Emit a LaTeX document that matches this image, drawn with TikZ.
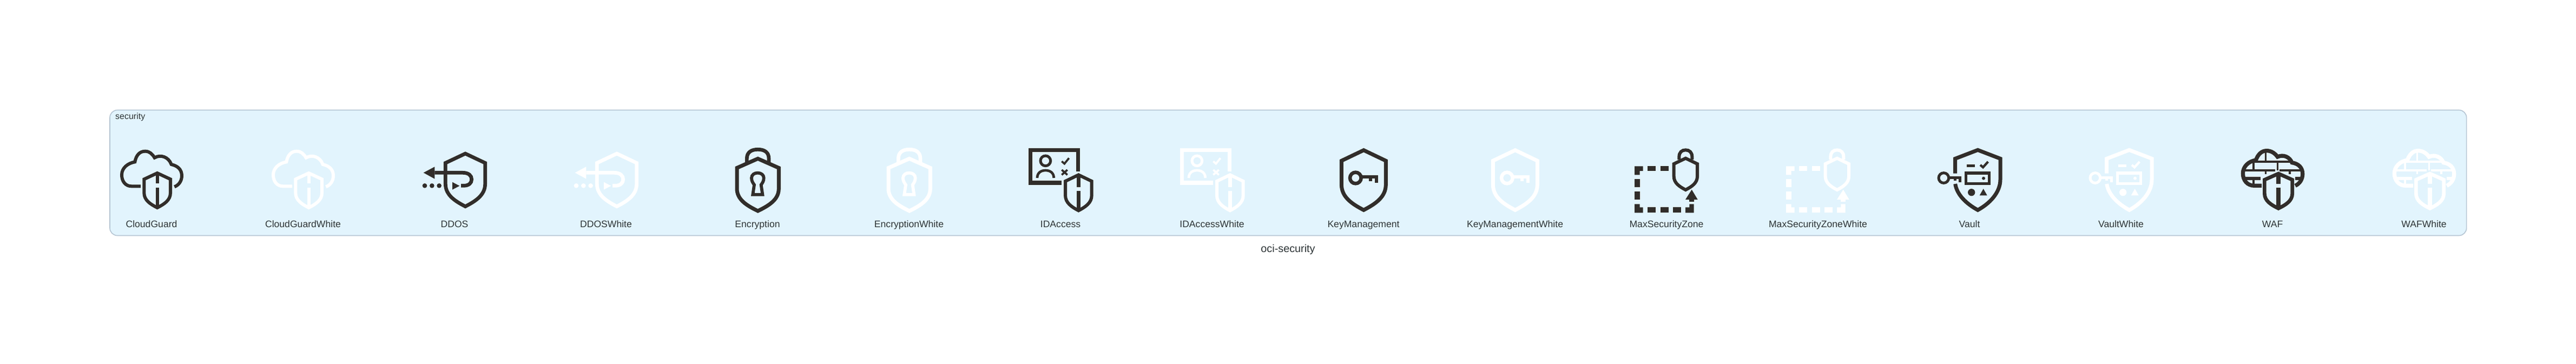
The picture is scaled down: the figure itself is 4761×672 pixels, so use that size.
\documentclass[tikz,border=0pt]{standalone}
\usepackage{fontspec}
\setmainfont{Liberation Sans}
\definecolor{clfill}{HTML}{E2F4FD}
\definecolor{clline}{HTML}{B5C5D3}
\definecolor{lbl}{HTML}{2D3436}
\definecolor{ink}{HTML}{312D2A}
\colorlet{ic}{ink}
\tikzset{
  ln/.style={draw=ic,line width=#1pt},
  fl/.style={fill=ic},
  lab/.style={anchor=base,inner sep=0pt,text=lbl,font=\fontsize{17.6}{20}\selectfont},
  third/.style={x=0.33333pt,y=-0.33333pt}
}
\newcommand{\SH}[5]{\begin{scope}[shift={(#1,#2)},xscale=#3/74,yscale=#4/192]
\draw[ln=#5] (0,0)--(74,34)--(74,110) .. controls (74,150) and (40,172) .. (0,192) .. controls (-40,172) and (-74,150) .. (-74,110) -- (-74,34) -- cycle;
\end{scope}}
\newcommand{\BAR}[4]{\fill[fl] ({#1-#4/2},#2) rectangle ({#1+#4/2},#3);}
\newcommand{\RC}[4]{\fill[fl] (#1,#2) rectangle (#3,#4);}
\newcommand{\IconCG}{
\draw[ln=6] (180,253) -- (130,253) .. controls (95,253) and (75,225) .. (75,190) .. controls (75,150) and (110,125) .. (148,118) .. controls (155,80) and (175,59) .. (205,59) .. controls (230,59) and (245,75) .. (257,95) .. controls (290,75) and (335,90) .. (350,132) .. controls (385,140) and (408,160) .. (408,195) .. controls (408,225) and (390,248) .. (367,256);
\SH{272}{180}{73}{192}{6}
\BAR{272}{180}{238}{17}\BAR{272}{260}{372}{17}
}
\newcommand{\IconDD}{
\SH{300}{72}{110}{293}{6.7}
\fill[fl] (68,178)--(130,145)--(130,212)--cycle;
\draw[ln=6.7] (130,178) -- (285,178) .. controls (320,178) and (335,195) .. (335,215) .. controls (335,235) and (320,250) .. (290,250) -- (276,250);
\fill[fl] (75,250) circle (13) (115,250) circle (13) (155,250) circle (13);
\fill[fl] (228,230)--(268,251)--(228,272)--cycle;
}
\newcommand{\IconEN}{
\draw[ln=6.7] (181,122) -- (181,100) .. controls (181,65) and (205,49) .. (242,49) .. controls (279,49) and (303,65) .. (303,100) -- (303,122);
\SH{242}{100}{116}{290}{7}
\draw[ln=5.8] (222,245) .. controls (215,235) and (207,225) .. (207,207) .. controls (207,190) and (222,179) .. (241,179) .. controls (260,179) and (275,190) .. (275,207) .. controls (275,225) and (267,235) .. (260,245) -- (268,299) -- (214,299) -- cycle;
}
\newcommand{\IconID}{
\draw[ln=7.3] (338,172) -- (338,52) -- (74,52) -- (74,234) -- (247,234);
\draw[ln=5] (157,112) circle (28);
\draw[ln=4.7] (111,207) .. controls (111,180) and (130,165) .. (157,165) .. controls (184,165) and (203,180) .. (203,207);
\draw[ln=3.7] (247,115)--(262,128)--(287,97);
\draw[ln=3.7] (247,162)--(278,190) (278,162)--(247,190);
\SH{340}{190}{73}{198}{6}
\BAR{340}{190}{258}{21}\BAR{340}{278}{388}{21}
}
\newcommand{\IconKM}{
\SH{241}{53}{123}{332}{7}
\draw[ln=6.5] (196,207) circle (31);
\RC{225}{192}{321}{210}
\RC{269}{205}{288}{225}
\RC{303}{205}{321}{233}
}
\newcommand{\IconMZ}{
\draw[ln=6] (310,105) -- (310,90) .. controls (310,65) and (325,52) .. (346,52) .. controls (367,52) and (382,65) .. (382,90) -- (382,105);
\SH{346}{98}{65}{175}{6}
\fill[fl] (63,142)--(110,142)--(110,168)--(92,168)--(92,190)--(63,190)--cycle;
\RC{135}{142}{181}{168}\RC{206}{142}{251}{168}
\RC{63}{213}{92}{258}\RC{63}{283}{92}{328}
\fill[fl] (63,352)--(92,352)--(92,370)--(110,370)--(110,400)--(63,400)--cycle;
\RC{135}{370}{181}{400}\RC{206}{370}{251}{400}\RC{276}{370}{321}{400}
\fill[fl] (345,370)--(367,370)--(367,352)--(392,352)--(392,400)--(345,400)--cycle;
\fill[fl] (380,272)--(413,327)--(345,327)--cycle;
\RC{367}{327}{392}{340}
}
\newcommand{\IconVA}{\begin{scope}[shift={(30,0)}]
\draw[ln=7] (131,182)--(131,100)--(256,52)--(381,100)--(381,215) .. controls (381,290) and (320,350) .. (256,385) .. controls (192,350) and (140,300) .. (131,240);
\draw[ln=5] (67,207) circle (28);
\RC{93}{198}{165}{213}
\RC{122}{205}{137}{222}
\RC{150}{205}{165}{232}
\draw[ln=5.3] (190,180) rectangle (319,239);
\fill[fl] (288,209) circle (9);
\RC{196}{132}{241}{148}
\draw[ln=4.3] (270,135)--(285,148)--(313,117);
\fill[fl] (221,287) circle (20);
\fill[fl] (287,267)--(308,304)--(266,304)--cycle;
\end{scope}}
\newcommand{\IconWA}{\begin{scope}[shift={(30,0)}]
\draw[ln=7.3] (150,250) -- (110,250) .. controls (70,250) and (46,220) .. (46,182) .. controls (46,145) and (75,115) .. (118,108) .. controls (130,75) and (150,56) .. (178,56) .. controls (205,56) and (225,72) .. (238,90) .. controls (270,75) and (305,90) .. (318,122) .. controls (355,128) and (377,150) .. (377,185) .. controls (377,215) and (360,240) .. (336,250);
\draw[ln=3.7] (110,118)--(325,118) (55,165)--(225,165) (250,165)--(370,165) (172,60)--(172,118) (104,118)--(104,165) (238,118)--(238,165) (172,165)--(172,185) (305,165)--(305,185) (104,210)--(104,250);
\draw[ln=5.5] (50,210)--(145,210) (337,210)--(368,210);
\SH{243}{183}{77}{193}{6.7}
\BAR{243}{183}{240}{22}\BAR{243}{262}{376}{22}
\end{scope}}
\newcommand{\Place}[3]{\begin{scope}[shift={(#1-80,260)},third]\colorlet{ic}{#2}#3\end{scope}}
\begin{document}
\begin{tikzpicture}[x=1pt,y=-1pt]
\useasboundingbox (0,0) rectangle (4761,672);
\fill[white] (0,0) rectangle (4761,672);
\node[rectangle,rounded corners=14pt,draw=clline,fill=clfill,line width=1.6pt,minimum width=4355.6pt,minimum height=232pt,inner sep=0pt,outer sep=0pt,anchor=north west] (cluster) at (203,203.5) {};
\node[anchor=base west,inner sep=0pt,text=lbl,font=\fontsize{16}{18}\selectfont] (clustertitle) at (213,220.5) {security};
\node[lab,font=\fontsize{19.8}{22}\selectfont] (caption) at (2380.5,466.5) {oci-security};
\Place{280}{ink}{\IconCG}\Place{560}{white}{\IconCG}
\Place{840}{ink}{\IconDD}\Place{1120}{white}{\IconDD}
\Place{1400}{ink}{\IconEN}\Place{1680}{white}{\IconEN}
\Place{1960}{ink}{\IconID}\Place{2240}{white}{\IconID}
\Place{2520}{ink}{\IconKM}\Place{2800}{white}{\IconKM}
\Place{3080}{ink}{\IconMZ}\Place{3360}{white}{\IconMZ}
\Place{3640}{ink}{\IconVA}\Place{3920}{white}{\IconVA}
\Place{4200}{ink}{\IconWA}\Place{4480}{white}{\IconWA}
\node[lab] (l1) at (280,420) {CloudGuard};
\node[lab] (l2) at (560,420) {CloudGuardWhite};
\node[lab] (l3) at (840,420) {DDOS};
\node[lab] (l4) at (1120,420) {DDOSWhite};
\node[lab] (l5) at (1400,420) {Encryption};
\node[lab] (l6) at (1680,420) {EncryptionWhite};
\node[lab] (l7) at (1960,420) {IDAccess};
\node[lab] (l8) at (2240,420) {IDAccessWhite};
\node[lab] (l9) at (2520,420) {KeyManagement};
\node[lab] (l10) at (2800,420) {KeyManagementWhite};
\node[lab] (l11) at (3080,420) {MaxSecurityZone};
\node[lab] (l12) at (3360,420) {MaxSecurityZoneWhite};
\node[lab] (l13) at (3640,420) {Vault};
\node[lab] (l14) at (3920,420) {VaultWhite};
\node[lab] (l15) at (4200,420) {WAF};
\node[lab] (l16) at (4480,420) {WAFWhite};
\end{tikzpicture}
\end{document}
